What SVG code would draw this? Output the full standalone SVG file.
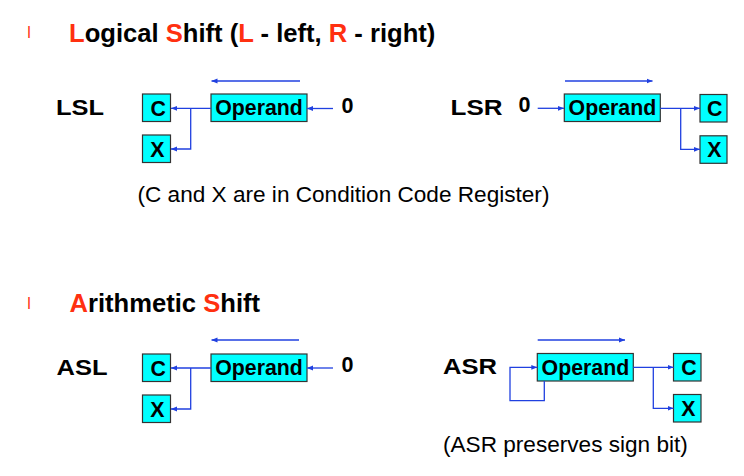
<svg xmlns="http://www.w3.org/2000/svg" width="744" height="476" viewBox="0 0 744 476">
<defs>
<marker id="ah" viewBox="0 0 6 6" refX="6" refY="3" markerWidth="6" markerHeight="6" orient="auto" markerUnits="userSpaceOnUse"><path d="M0,0.6 L6,3 L0,5.4 z" fill="#2040e0"/></marker>
</defs>
<style>
.box{fill:#00ffff;stroke:#333;stroke-width:1.2}
.bt{font-family:"Liberation Sans",Arial,sans-serif;font-weight:bold;font-size:21.3px;fill:#000}
.lbl{font-family:"Liberation Sans",Arial,sans-serif;font-weight:bold;font-size:21.5px;fill:#000}
.ttl{font-family:"Liberation Sans",Arial,sans-serif;font-weight:bold;font-size:25.6px;fill:#000}
.red{fill:#ff3010}
.cap{font-family:"Liberation Sans",Arial,sans-serif;font-size:22.6px;fill:#000}
.bul{font-family:"Liberation Sans",Arial,sans-serif;font-size:16px;fill:#ff3010}
.ln{fill:none;stroke:#2040e0;stroke-width:1.3}
.arr{marker-end:url(#ah)}
</style>

<g id="titles">
<text class="bul" x="27.3" y="38.3">l</text>
<text class="ttl" x="69" y="41.5"><tspan class="red">L</tspan>ogical <tspan class="red">S</tspan>hift (<tspan class="red">L</tspan> - left, <tspan class="red">R</tspan> - right)</text>
<text class="bul" x="27.3" y="308.5">l</text>
<text class="ttl" x="69.5" y="312.3"><tspan class="red">A</tspan>rithmetic <tspan class="red">S</tspan>hift</text>
</g>

<g id="labels">
<text class="lbl" x="56" y="114.7" textLength="48" lengthAdjust="spacingAndGlyphs">LSL</text>
<text class="lbl" x="450.5" y="115.3" textLength="52" lengthAdjust="spacingAndGlyphs">LSR</text>
<text class="lbl" x="56.5" y="374.5" textLength="51" lengthAdjust="spacingAndGlyphs">ASL</text>
<text class="lbl" x="443" y="374.2" textLength="54" lengthAdjust="spacingAndGlyphs">ASR</text>
<text class="lbl" x="341.5" y="112.7">0</text>
<text class="lbl" x="518.5" y="112.3">0</text>
<text class="lbl" x="341.5" y="372">0</text>
<text class="cap" x="137.5" y="202">(C and X are in Condition Code Register)</text>
<text class="cap" x="443" y="451.7">(ASR preserves sign bit)</text>
</g>

<g id="lsl-c"><rect class="box" x="142.5" y="94" width="28" height="27.5"/><text class="bt" x="150.5" y="115.5">C</text></g>
<g id="lsl-x"><rect class="box" x="142.5" y="135" width="28" height="27.5"/><text class="bt" x="150.3" y="156.5">X</text></g>
<g id="lsl-op"><rect class="box" x="211" y="94" width="96" height="27.5"/><text class="bt" x="215.3" y="115.2">Operand</text></g>

<g id="lsr-op"><rect class="box" x="564.3" y="94" width="96" height="27.5"/><text class="bt" x="568.6" y="115.2">Operand</text></g>
<g id="lsr-c"><rect class="box" x="700" y="94.5" width="27" height="27.5"/><text class="bt" x="707.1" y="116">C</text></g>
<g id="lsr-x"><rect class="box" x="700" y="135.8" width="27" height="27.5"/><text class="bt" x="707.3" y="157.3">X</text></g>

<g id="asl-c"><rect class="box" x="142.5" y="354" width="28" height="27.5"/><text class="bt" x="150.5" y="375.5">C</text></g>
<g id="asl-x"><rect class="box" x="142.5" y="395" width="28" height="27.5"/><text class="bt" x="150.3" y="416.5">X</text></g>
<g id="asl-op"><rect class="box" x="211" y="354" width="96" height="27.5"/><text class="bt" x="215.3" y="375.2">Operand</text></g>

<g id="asr-op"><rect class="box" x="537.3" y="353.5" width="96" height="27.5"/><text class="bt" x="541.6" y="374.7">Operand</text></g>
<g id="asr-c"><rect class="box" x="673.5" y="353.5" width="27.5" height="27.5"/><text class="bt" x="681.3" y="375">C</text></g>
<g id="asr-x"><rect class="box" x="673.5" y="394.5" width="27.5" height="27.5"/><text class="bt" x="681.3" y="416">X</text></g>

<g id="connectors">
<path class="ln arr" d="M300,81 H211.5"/>
<path class="ln arr" d="M333,108.5 H307"/>
<path class="ln arr" d="M211,108.3 H171"/>
<path class="ln arr" d="M190.7,108.3 V149 H171"/>
<path class="ln arr" d="M565,81 H652.5"/>
<path class="ln arr" d="M537.7,108.3 H564"/>
<path class="ln arr" d="M660.3,108.3 H700"/>
<path class="ln arr" d="M680.7,108.3 V149.3 H700"/>
<path class="ln arr" d="M299,340 H211.5"/>
<path class="ln arr" d="M333,368 H307"/>
<path class="ln arr" d="M211,368 H171"/>
<path class="ln arr" d="M190.7,368 V409 H171"/>
<path class="ln arr" d="M537.7,340 H625"/>
<path class="ln arr" d="M544.3,381 V400.7 H510 V367.3 H537.3"/>
<path class="ln arr" d="M633.3,367.3 H673.5"/>
<path class="ln arr" d="M653.3,367.3 V408.3 H673.5"/>
</g>
</svg>
